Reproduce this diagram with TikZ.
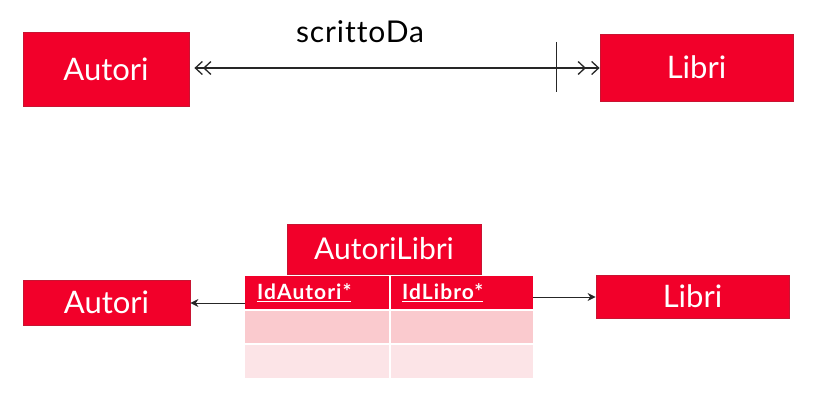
\documentclass[tikz,border=0pt]{standalone}
\usepackage{fontspec}
\setmainfont{Lato}[Ligatures=NoCommon]
\usetikzlibrary{arrows.meta}
\definecolor{entred}{RGB}{242,0,42}
\definecolor{entedge}{RGB}{200,20,50}
\definecolor{rowa}{RGB}{250,202,206}
\definecolor{rowb}{RGB}{252,228,231}
\tikzset{
  entity/.style={draw=entedge, line width=0.8pt, fill=entred, text=white,
    font=\fontsize{31}{34}\selectfont, inner sep=0pt},
  headcell/.style={fill=entred, text=white, inner sep=0pt, anchor=north west,
    minimum height=33pt, text width=#1, align=left,
    font=\fontsize{21}{24}\selectfont\bfseries\addfontfeatures{LetterSpace=5}},
  link/.style={line width=1.3pt, black!85},
  manyend/.style={arrows={%
    Straight Barb[length=7pt,width=13pt,sep=5pt]Straight Barb[length=7pt,width=13pt]-%
    Straight Barb[length=7pt,width=13pt,sep=5pt]Straight Barb[length=7pt,width=13pt]}},
}
\newcommand{\ulwhite}[1]{\underline{#1}}
\begin{document}
\begin{tikzpicture}[x=1pt,y=-1pt]
  \useasboundingbox (0,0) rectangle (813,395);

  % conceptual model: one-to-many relation
  \node[entity, minimum width=166pt, minimum height=74pt] (autori) at (106,69) {Autori};
  \node[entity, minimum width=193pt, minimum height=67pt] (libri) at (696.5,67.5) {Libri};
  \node[font=\fontsize{30}{34}\selectfont\addfontfeatures{LetterSpace=3}] (rel) at (360,32) {scrittoDa};
  \draw[link, manyend] (autori.east |- 0,68) -- (libri.west |- 0,68);
  \coordinate (tickt) at (556,42);
  \coordinate (tickb) at (556,92);
  \draw[line width=1pt, black!85] (tickt) -- (tickb);

  % logical model: link table
  \node[entity, minimum width=194pt, minimum height=50pt, font=\fontsize{30}{34}\selectfont]
    (al) at (384,249) {AutoriLibri};
  \node[headcell=136pt, minimum width=144pt] (h1) at (245,276) {\hspace{8pt}\ulwhite{IdAutori*}};
  \node[headcell=134pt, minimum width=142pt] (h2) at (391,276) {\hspace{7pt}\ulwhite{IdLibro*}};
  \fill[rowa] (245,311) rectangle (389,343) coordinate (c21);
  \fill[rowa] (391,311) rectangle (533,343) coordinate (c22);
  \fill[rowb] (245,345) rectangle (389,378) coordinate (c31);
  \fill[rowb] (391,345) rectangle (533,378) coordinate (c32);

  \node[entity, minimum width=167pt, minimum height=45pt] (autori2) at (106.5,302.5) {Autori};
  \node[entity, minimum width=193pt, minimum height=43pt] (libri2) at (692.5,296.5) {Libri};
  \draw[link, line width=1pt, -{Stealth[length=8pt,width=8pt]}] (h1.west |- 0,303) -- (autori2.east |- 0,303);
  \draw[link, line width=1pt, -{Stealth[length=8pt,width=8pt]}] (h2.east |- 0,297) -- (libri2.west |- 0,297);
\end{tikzpicture}
\end{document}
